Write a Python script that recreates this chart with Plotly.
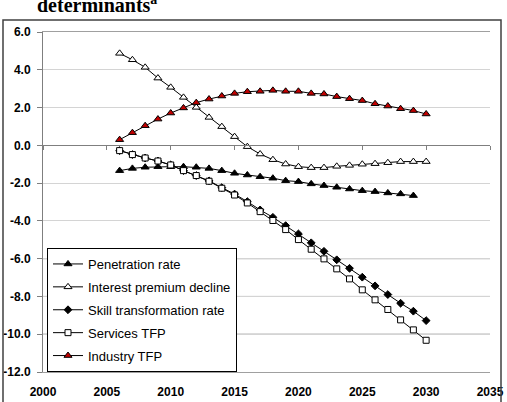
import plotly.graph_objects as go

years = list(range(2006, 2031))

penetration = [-1.34, -1.22, -1.16, -1.13, -1.13, -1.13, -1.16, -1.22, -1.34, -1.48, -1.57, -1.66,
               -1.74, -1.87, -1.92, -2.04, -2.13, -2.22, -2.31, -2.40, -2.45, -2.52, -2.57, -2.66]
interest = [4.87, 4.53, 4.13, 3.56, 3.07, 2.54, 2.01, 1.48, 0.99, 0.46, -0.07, -0.46,
            -0.76, -0.99, -1.13, -1.18, -1.18, -1.11, -1.06, -1.00, -0.97, -0.92, -0.86, -0.86, -0.86]
skill = [-0.28, -0.49, -0.67, -0.83, -1.04, -1.34, -1.60, -1.88, -2.24, -2.58, -2.98, -3.42,
         -3.81, -4.25, -4.69, -5.16, -5.61, -6.06, -6.51, -6.98, -7.44, -7.90, -8.36, -8.78, -9.28]
services = [-0.28, -0.49, -0.67, -0.83, -1.04, -1.34, -1.60, -1.90, -2.27, -2.63, -3.05, -3.51,
            -3.98, -4.46, -4.99, -5.50, -6.01, -6.54, -7.07, -7.65, -8.18, -8.69, -9.24, -9.77, -10.32]
industry = [0.30, 0.67, 1.04, 1.39, 1.71, 1.98, 2.26, 2.45, 2.61, 2.75, 2.84, 2.86,
            2.91, 2.86, 2.86, 2.75, 2.72, 2.58, 2.47, 2.37, 2.20, 2.08, 1.94, 1.84, 1.66]

y_ticks = [6, 4, 2, 0, -2, -4, -6, -8, -10, -12]
y_tick_labels = ["6.0", "4.0", "2.0", "0.0", "-2.0", "-4.0", "-6.0", "-8.0", "-10.0", "-12.0"]
x_ticks = [2000, 2005, 2010, 2015, 2020, 2025, 2030, 2035]

series = [
    ("Penetration rate", penetration, "triangle-up", "black", 7),
    ("Interest premium decline", interest, "triangle-up", "white", 7),
    ("Skill transformation rate", skill, "diamond", "black", 6),
    ("Services TFP", services, "square", "white", 6),
    ("Industry TFP", industry, "triangle-up", "#C00000", 7),
]

fig = go.Figure()
for i, (name, vals, sym, fill, size) in enumerate(series):
    fig.add_trace(go.Scatter(
        x=years[:len(vals)], y=vals, name=name, mode="lines+markers", legendgroup=f"g{i}",
        line=dict(color="black", width=1),
        marker=dict(symbol=sym, size=size, color=fill, line=dict(color="black", width=1)),
    ))

font_fam = "Arial, Liberation Sans, sans-serif"
W, H = 507, 402
ml, mr, mt, mb = 43, 17, 32, 30
pw, ph = W - ml - mr, H - mt - mb

def px_x(p):
    return (p - ml) / pw

def px_y(p):
    return (H - mb - p) / ph

shapes = []
for gv in [-6, -8, -10]:
    shapes.append(dict(type="line", xref="paper", yref="y", x0=0, x1=1, y0=gv, y1=gv,
                       line=dict(color="#7f7f7f", width=1), layer="below"))
shapes.append(dict(type="rect", xref="paper", yref="paper", x0=px_x(3), x1=px_x(501),
                   y0=px_y(412), y1=px_y(20), line=dict(color="#404040", width=1.5)))

fig.update_layout(
    width=W, height=H,
    margin=dict(l=ml, r=mr, t=mt, b=mb, autoexpand=False),
    paper_bgcolor="white", plot_bgcolor="white",
    font=dict(family=font_fam, color="black"),
    showlegend=True,
    legend=dict(x=px_x(47), y=px_y(248), xanchor="left", yanchor="top",
                bgcolor="white", bordercolor="black", borderwidth=1,
                font=dict(size=13, family=font_fam), tracegroupgap=3, itemwidth=30),
    xaxis=dict(range=[2000, 2035], tickvals=x_ticks, showgrid=False, zeroline=False,
               showline=True, linecolor="#a0a0a0", linewidth=1, mirror=True, ticks="",
               tickfont=dict(size=12, family=font_fam, color="black", weight="bold"),
               ticklabelstandoff=9, automargin=False),
    xaxis2=dict(range=[2000, 2035], tickvals=x_ticks, overlaying="x", anchor="free",
                position=12/18, showgrid=False, zeroline=False, showline=True,
                linecolor="#7f7f7f", linewidth=1, ticks="outside", ticklen=4,
                tickcolor="#7f7f7f", showticklabels=False, automargin=False),
    yaxis=dict(range=[-12, 6], tickvals=y_ticks, ticktext=y_tick_labels, showgrid=True,
               gridcolor="#d4d4d4", zeroline=False, showline=True, linecolor="#7f7f7f",
               linewidth=1, ticks="outside", ticklen=5, tickcolor="#7f7f7f",
               tickfont=dict(size=12, family=font_fam, color="black", weight="bold"),
               ticklabelstandoff=4, automargin=False),
    shapes=shapes,
    annotations=[dict(text="determinants<sup>a</sup>", xref="paper", yref="paper",
                      x=px_x(36), y=px_y(17), xanchor="left", yanchor="bottom",
                      showarrow=False, borderpad=0,
                      font=dict(family="Liberation Serif, Times New Roman, serif", size=20,
                                color="black", weight="bold"))],
)
fig.add_trace(go.Scatter(x=[2000], y=[0], xaxis="x2", mode="markers", marker=dict(opacity=0),
                         showlegend=False, hoverinfo="skip"))

fig.write_html("out.html")
